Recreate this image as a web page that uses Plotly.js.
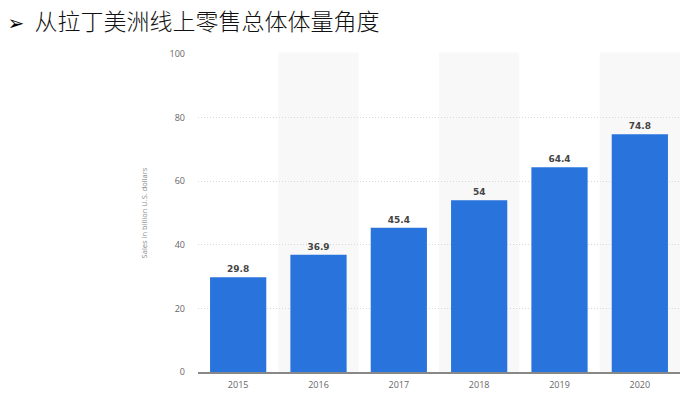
<!DOCTYPE html>
<html>
<head>
<meta charset="utf-8">
<script src="https://cdn.plot.ly/plotly-3.0.1.min.js"></script>
<style>html,body{margin:0;padding:0;background:#fff;}#chart{width:685px;height:397px;}</style>
</head>
<body>
<div id="chart"></div>
<script>
const years = ['2015', '2016', '2017', '2018', '2019', '2020'];
const sales = [29.8, 36.9, 45.4, 54, 64.4, 74.8];
const labels = ['29.8', '36.9', '45.4', '54', '64.4', '74.8'];
const shadedYears = ['2016', '2018', '2020'];
const yTicks = [0, 20, 40, 60, 80, 100];

const shapes = shadedYears.map(y => {
  const i = years.indexOf(y);
  return {type: 'rect', xref: 'x', yref: 'paper', x0: i - 0.5, x1: i + 0.5, y0: 0, y1: 1.005,
          fillcolor: '#f8f8f8', line: {width: 0}, layer: 'below'};
});

const trace = {
  type: 'bar', x: years, y: sales, text: labels, textposition: 'outside',
  textfont: {family: 'DejaVu Sans, sans-serif', size: 9, color: '#444', weight: 'bold'},
  marker: {color: '#2874dc'}, width: 0.7, cliponaxis: false, hoverinfo: 'none'
};

const layout = {
  width: 685, height: 397,
  margin: {l: 198, r: 5, t: 54, b: 25},
  paper_bgcolor: '#fff', plot_bgcolor: 'rgba(0,0,0,0)',
  showlegend: false,
  title: {text: '<span style="font-family:DejaVu Sans;font-size:20px;font-weight:bold;color:#000">➢</span>&nbsp; 从拉丁美洲线上零售总体体量角度', x: 0.011, xanchor: 'left', xref: 'container',
          y: 0.945, yanchor: 'middle', yref: 'container',
          font: {family: 'Noto Sans CJK SC, sans-serif', size: 23, color: '#111', weight: 300}},
  xaxis: {type: 'category', range: [-0.5, 5.5], showgrid: false, zeroline: false,
          showline: true, linecolor: '#888', linewidth: 1.5, ticks: '',
          tickfont: {family: 'Open Sans, sans-serif', size: 9, color: '#666'}, ticklabelstandoff: 4},
  yaxis: {range: [0, 100], tickvals: yTicks, showgrid: true, gridcolor: '#d8d8d8', griddash: '1px,2px', gridwidth: 1,
          zeroline: false, showline: false, ticks: '', ticklabelstandoff: 12,
          tickfont: {family: 'Open Sans, sans-serif', size: 9, color: '#666'},
          title: {text: 'Sales in billion U.S. dollars', standoff: 20,
                  font: {family: 'Open Sans, sans-serif', size: 7.5, color: '#888'}}},
  shapes: shapes,
  bargap: 0.3
};

Plotly.newPlot('chart', [trace], layout, {displayModeBar: false, staticPlot: true});
</script>
</body>
</html>
